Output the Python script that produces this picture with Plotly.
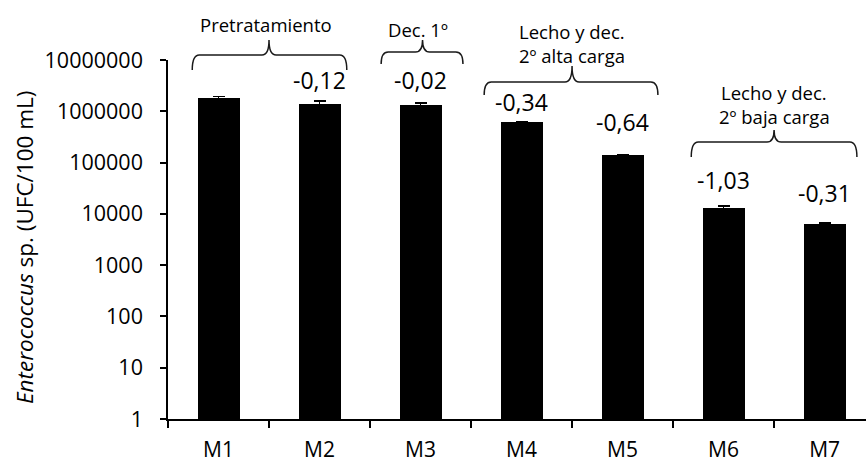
import math
import plotly.graph_objects as go

# Sampling points and Enterococcus counts (UFC/100 mL)
samples = ["M1", "M2", "M3", "M4", "M5", "M6", "M7"]
counts = [1.85e6, 1.40e6, 1.34e6, 6.1e5, 1.4e5, 1.3e4, 6.4e3]
count_err = [1.0e5, 2.0e5, 1.0e5, 1.5e4, 3.0e3, 1.3e3, 3.0e2]

# Log reduction between consecutive sampling points
log_reduction = ["", "-0,12", "-0,02", "-0,34", "-0,64", "-1,03", "-0,31"]

# Log-axis ticks
y_tickvals = [1, 10, 100, 1000, 10000, 100000, 1000000, 10000000]
y_ticktext = ["1", "10", "100", "1000", "10000", "100000", "1000000", "10000000"]

# Treatment stages grouped with braces
stage_labels = [
    ["Pretratamiento"],
    ["Dec. 1º"],
    ["Lecho y dec.", "2º alta carga"],
    ["Lecho y dec.", "2º baja carga"],
]

FONT = "Open Sans"
W, H = 866, 464
M_LEFT, M_RIGHT, M_TOP, M_BOTTOM = 168, 0, 60, 45
PLOT_H = H - M_TOP - M_BOTTOM


def py(pix):
    """Pixel row (from top) -> paper y."""
    return (H - M_BOTTOM - pix) / PLOT_H


fig = go.Figure()
fig.add_trace(go.Bar(
    x=list(range(len(samples))),
    y=counts,
    width=0.416,
    marker=dict(color="black", line=dict(width=0)),
    error_y=dict(type="data", array=count_err, visible=True,
                 color="black", thickness=1.5, width=6),
    showlegend=False,
    hoverinfo="x+y",
))

# Log-reduction labels above the bars
label_shift = [0, 24, 25, 20, 33, 28, 31]
for i, (txt, v) in enumerate(zip(log_reduction, counts)):
    if not txt:
        continue
    fig.add_annotation(x=i, y=math.log10(v), xref="x", yref="y",
                       text=txt, showarrow=False, yanchor="middle",
                       yshift=label_shift[i],
                       font=dict(family=FONT, size=23, color="black"))

# Braces: (left, right, tip) in category units; (ends, bar, tip) rows in px
brace_x = [(-0.26, 1.27, 0.50), (1.61, 2.42, 2.02), (2.63, 4.35, 3.50), (4.68, 6.32, 5.50)]
brace_rows = [(70, 55, 40), (64, 52, 40), (95, 82, 66), (157, 142, 130)]
label_rows = [[25], [30], [31, 56], [92, 116]]
label_x = [0.475, 1.97, 3.495, 5.5]

shapes = []
r = 0.07
for (xl, xr, xt), (pe, ph, pt) in zip(brace_x, brace_rows):
    ye, yh, yt = py(pe), py(ph), py(pt)
    path = (f"M {xl},{ye} Q {xl},{yh} {xl + r},{yh} "
            f"L {xt - r},{yh} Q {xt},{yh} {xt},{yt} "
            f"Q {xt},{yh} {xt + r},{yh} "
            f"L {xr - r},{yh} Q {xr},{yh} {xr},{ye}")
    shapes.append(dict(type="path", path=path, xref="x", yref="paper",
                       line=dict(color="#1a1a1a", width=1.5)))

for lines, rows, lx in zip(stage_labels, label_rows, label_x):
    for line, row in zip(lines, rows):
        fig.add_annotation(x=lx, y=py(row), xref="x", yref="paper",
                           text=line, showarrow=False, yanchor="middle",
                           font=dict(family=FONT, size=18.5, color="black"))

# Rotated y-axis title
fig.add_annotation(x=(24 - M_LEFT) / (W - M_LEFT - M_RIGHT), y=py(247),
                   xref="paper", yref="paper", textangle=-90,
                   text="<i>Enterococcus</i> sp. (UFC/100 mL)",
                   showarrow=False, xanchor="center", yanchor="middle",
                   font=dict(family=FONT, size=22.5, color="black"))

fig.update_layout(
    width=W, height=H,
    margin=dict(l=M_LEFT, r=M_RIGHT, t=M_TOP, b=M_BOTTOM, pad=0),
    paper_bgcolor="white", plot_bgcolor="white",
    shapes=shapes,
    bargap=0,
    xaxis=dict(
        range=[-0.5, 6.41], automargin=False,
        tickvals=list(range(len(samples))), ticktext=samples,
        ticks="", showgrid=False, zeroline=False,
        showline=True, linecolor="black", linewidth=1.5,
        tickfont=dict(family=FONT, size=21, color="black"),
        ticklabelstandoff=11,
        minor=dict(tickvals=[i - 0.5 for i in range(len(samples) + 1)],
                   ticks="outside", ticklen=7, tickwidth=1.5,
                   tickcolor="black", showgrid=False),
    ),
    yaxis=dict(
        type="log", range=[0, 7], automargin=False,
        tickvals=y_tickvals, ticktext=y_ticktext,
        ticks="outside", ticklen=6, tickwidth=1.5, tickcolor="black",
        showgrid=False, zeroline=False,
        showline=True, linecolor="black", linewidth=1.5,
        tickfont=dict(family=FONT, size=21.5, color="black"),
        ticklabelstandoff=13,
    ),
)

fig.write_html("out.html")
